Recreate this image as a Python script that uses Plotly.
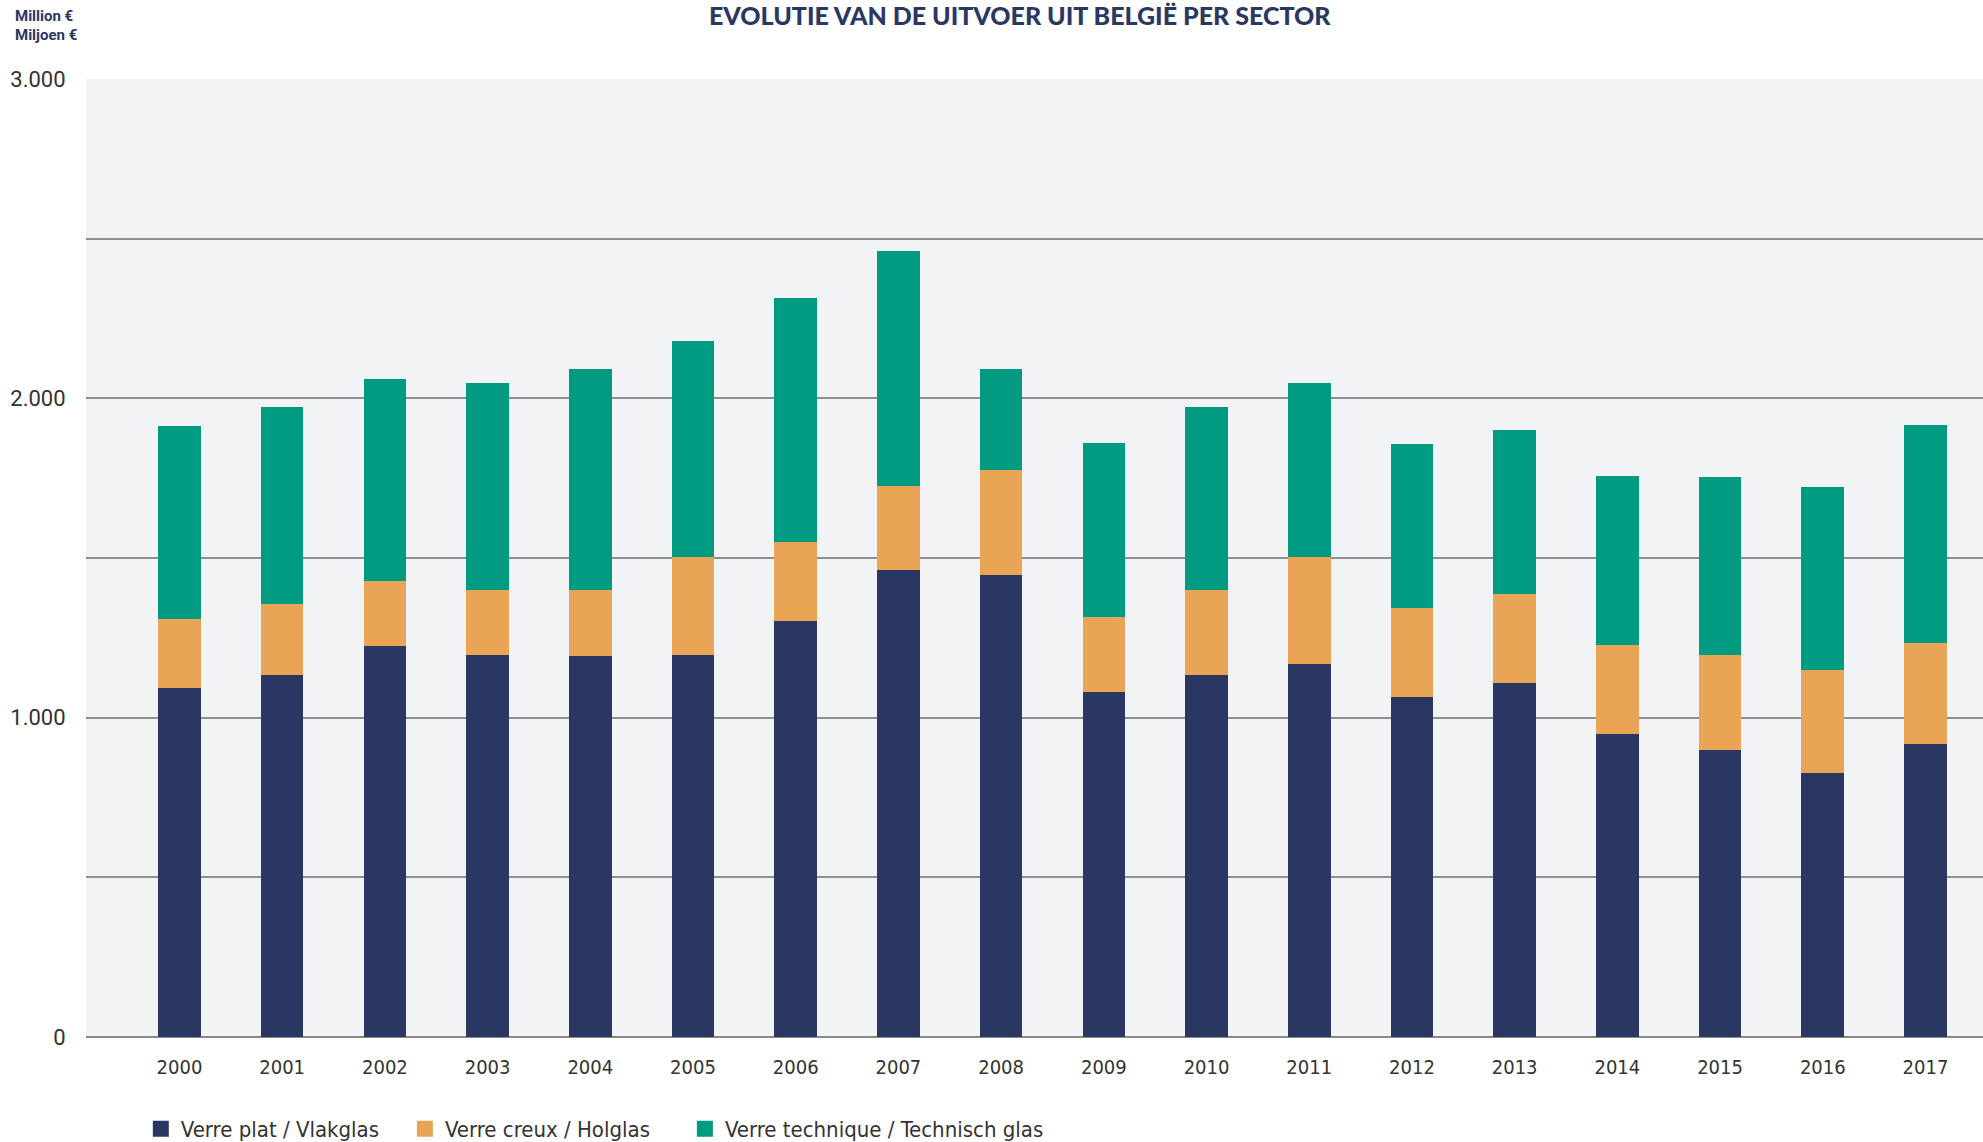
import plotly.graph_objects as go

years = [str(y) for y in range(2000, 2018)]
verre_plat = [1100, 1141, 1232, 1204, 1200, 1204, 1310, 1470, 1454, 1088, 1141, 1175, 1070, 1114, 954, 905, 832, 923]
verre_creux = [216, 222, 203, 203, 207, 306, 247, 263, 329, 235, 266, 335, 279, 279, 280, 297, 323, 316]
verre_technique = [592, 605, 620, 636, 680, 664, 752, 723, 304, 532, 561, 533, 501, 501, 516, 545, 561, 670]

names = ["Verre plat / Vlakglas", "Verre creux / Holglas", "Verre technique / Technisch glas"]
colors = ["#2b3763", "#e9a555", "#009b80"]
ytickvals = [0, 500, 1000, 1500, 2000, 2500, 3000]
yticktext = ["0", "", "1.000", "", "2.000", "", "3.000"]

NAVY = "#2b3763"
COND = "Liberation Sans Narrow, DejaVu Sans Condensed, Roboto"
legend_ids = ["legend", "legend2", "legend3"]
legend_x = [0.0289, 0.1681, 0.3157]

fig = go.Figure()
for vals, nm, c, lid in zip([verre_plat, verre_creux, verre_technique], names, colors, legend_ids):
    fig.add_trace(go.Bar(x=years, y=vals, name=nm, legend=lid,
                         marker=dict(color=c, line=dict(width=4, color=c))))

legend_style = dict(orientation="h", xanchor="left", y=-0.096, yanchor="middle",
                    font=dict(family=COND, size=22, color="#333333"),
                    bgcolor="rgba(0,0,0,0)")

fig.update_layout(
    width=1983, height=1142,
    barmode="stack", bargap=0.624,
    paper_bgcolor="white", plot_bgcolor="#f2f3f5",
    margin=dict(l=86, r=0, t=79, b=105, autoexpand=False),
    showlegend=True,
    legend=dict(x=legend_x[0], **legend_style),
    legend2=dict(x=legend_x[1], **legend_style),
    legend3=dict(x=legend_x[2], **legend_style),
    xaxis=dict(type="category", range=[-0.91, 17.56], showgrid=False, zeroline=False,
               ticks="outside", ticklen=12, tickcolor="rgba(0,0,0,0)",
               tickfont=dict(family=COND, size=20, color="#333333"), showline=False),
    yaxis=dict(range=[0, 3000], tickvals=ytickvals, ticktext=yticktext,
               showgrid=True, gridcolor="#8f8f8f", gridwidth=1.5,
               zeroline=True, zerolinecolor="#8a8a8a", zerolinewidth=2,
               ticks="outside", ticklen=15, tickcolor="rgba(0,0,0,0)",
               tickfont=dict(family="Roboto", size=22, color="#333333"), showline=False),
    font=dict(family="Roboto"),
)

fig.add_annotation(text="EVOLUTIE VAN DE UITVOER UIT BELGIË PER SECTOR",
                   xref="paper", yref="paper", x=0.4923, y=1.0668, xanchor="center", yanchor="middle",
                   showarrow=False, font=dict(family="Lato", size=25, color=NAVY, weight=900))
fig.add_annotation(text="<b>Million €</b>", xref="paper", yref="paper", x=-0.0385, y=1.0658,
                   xanchor="left", yanchor="middle", showarrow=False,
                   font=dict(family="Roboto", size=15, color=NAVY))
fig.add_annotation(text="<b>Miljoen €</b>", xref="paper", yref="paper", x=-0.0385, y=1.0459,
                   xanchor="left", yanchor="middle", showarrow=False,
                   font=dict(family="Roboto", size=15, color=NAVY))

fig.write_html("out.html", config={"displayModeBar": False},
               post_script="document.body.style.margin='0px';")
